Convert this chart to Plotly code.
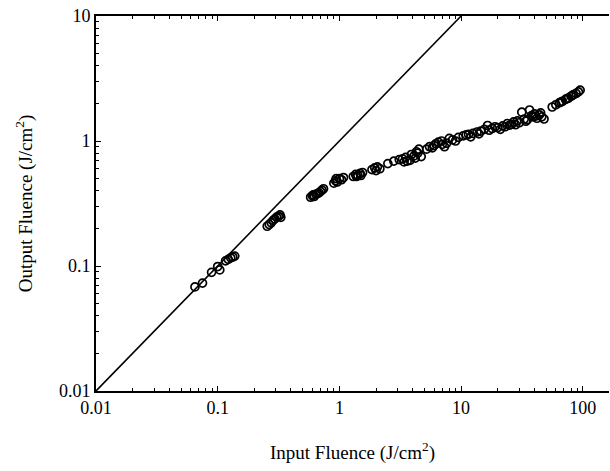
import plotly.graph_objects as go

input_fluence = [
    0.065, 0.075, 0.089, 0.100, 0.104, 0.116, 0.122, 0.128, 0.133, 0.138,
    0.255, 0.265, 0.275, 0.285, 0.295, 0.305, 0.315, 0.325, 0.33,
    0.58, 0.60, 0.61, 0.62, 0.64, 0.66, 0.68, 0.70, 0.72, 0.74,
    0.90, 0.93, 0.96, 1.00, 1.04, 1.08, 0.94,
    1.30, 1.36, 1.42, 1.48, 1.55, 1.38, 1.50,
    1.85, 1.95, 2.05, 2.15, 2.0,
    2.5, 2.8, 3.1, 3.3, 3.5, 3.6, 3.8, 3.9, 4.1, 4.3, 4.4, 4.5, 4.7, 4.2, 3.4,
    5.2, 5.5, 5.8, 6.2, 6.5, 6.9, 7.3, 7.6, 8.0, 8.5, 9.5, 6.0, 7.0, 9.0,
    10.4, 11.0, 12.0, 12.5, 13.5, 14.5, 15.5, 16.5, 17.0, 18.0, 19.0, 11.5, 14.0,
    20.0, 21.0, 22.0, 24.0, 25.0, 27.0, 28.0, 30.0, 31.5, 33.0, 35.0, 23.0, 26.0, 29.0,
    36.5, 38.0, 39.0, 40.0, 42.0, 44.0, 46.0, 48.0, 34.0, 41.0, 45.0,
    56.0, 60.0, 64.0, 68.0, 72.0, 76.0, 80.0, 84.0, 88.0, 92.0, 95.0, 66.0, 74.0, 82.0,
]
output_fluence = [
    0.068, 0.073, 0.089, 0.099, 0.093, 0.110, 0.113, 0.116, 0.118, 0.120,
    0.208, 0.215, 0.222, 0.232, 0.238, 0.246, 0.250, 0.256, 0.245,
    0.355, 0.365, 0.370, 0.360, 0.375, 0.380, 0.385, 0.395, 0.405, 0.415,
    0.46, 0.48, 0.47, 0.50, 0.49, 0.51, 0.50,
    0.52, 0.54, 0.53, 0.55, 0.56, 0.52, 0.53,
    0.59, 0.61, 0.62, 0.60, 0.58,
    0.66, 0.69, 0.71, 0.72, 0.74, 0.69, 0.70, 0.78, 0.76, 0.82, 0.80, 0.86, 0.75, 0.73, 0.68,
    0.86, 0.90, 0.88, 0.95, 0.98, 1.00, 0.90, 0.96, 1.05, 1.02, 1.07, 0.92, 0.94, 1.00,
    1.10, 1.12, 1.08, 1.15, 1.18, 1.20, 1.24, 1.33, 1.22, 1.26, 1.30, 1.13, 1.14,
    1.28, 1.24, 1.32, 1.38, 1.34, 1.42, 1.35, 1.40, 1.70, 1.50, 1.48, 1.30, 1.36, 1.45,
    1.77, 1.60, 1.56, 1.65, 1.52, 1.62, 1.56, 1.50, 1.44, 1.58, 1.68,
    1.87, 1.95, 2.02, 2.08, 2.15, 2.20, 2.28, 2.35, 2.40, 2.47, 2.55, 2.05, 2.18, 2.32,
]

# Reference line: output = input
line_x = [0.01, 10]
line_y = [0.01, 10]

x_tickvals = [0.01, 0.1, 1, 10, 100]
x_ticktext = ["0.01", "0.1", "1", "10", "100"]
y_tickvals = [0.01, 0.1, 1, 10]
y_ticktext = ["0.01", "0.1", "1", "10"]

minor_x = [m * d for d in [0.01, 0.1, 1, 10, 100] for m in range(2, 10) if m * d < 170]
minor_y = [m * d for d in [0.01, 0.1, 1] for m in range(2, 10)]

font = "Liberation Serif, Times New Roman, serif"

fig = go.Figure()
fig.add_trace(go.Scatter(
    x=line_x, y=line_y, mode="lines",
    line=dict(color="black", width=1.6), showlegend=False, hoverinfo="skip"))
fig.add_trace(go.Scatter(
    x=input_fluence, y=output_fluence, mode="markers",
    marker=dict(symbol="circle-open", size=8, color="black", line=dict(width=1.7)),
    showlegend=False))

axis_common = dict(
    type="log", showgrid=False, zeroline=False,
    showline=True, linecolor="black", linewidth=1.6,
    ticks="inside", ticklen=5, tickwidth=1, tickcolor="black",
    tickfont=dict(family=font, size=18, color="black"),
    ticklabeloverflow="allow",
)

fig.update_xaxes(
    **axis_common,
    mirror="ticks",
    range=[-2, 2.215],
    tickmode="array", tickvals=x_tickvals, ticktext=x_ticktext,
    minor=dict(tickmode="array", tickvals=minor_x, ticks="inside", ticklen=3,
               tickcolor="black", tickwidth=1),
    title=dict(text="Input Fluence (J/cm<sup>2</sup>)",
               font=dict(family=font, size=19, color="black"), standoff=28),
)
fig.update_yaxes(
    **axis_common,
    mirror=False,
    range=[-2, 1],
    tickmode="array", tickvals=y_tickvals, ticktext=y_ticktext,
    minor=dict(tickmode="array", tickvals=minor_y, ticks="inside", ticklen=3,
               tickcolor="black", tickwidth=1),
    title=dict(text="Output Fluence (J/cm<sup>2</sup>)",
               font=dict(family=font, size=19, color="black"), standoff=21),
)

# Right-hand axis: tick marks only, no solid line (as in the reference)
fig.update_layout(
    yaxis2=dict(
        type="log", overlaying="y", side="right", matches="y",
        range=[-2, 1], showline=False, showgrid=False, zeroline=False,
        showticklabels=False,
        ticks="inside", ticklen=5, tickwidth=1, tickcolor="black",
        tickmode="array", tickvals=y_tickvals,
        minor=dict(tickmode="array", tickvals=minor_y, ticks="inside", ticklen=3,
                   tickcolor="black", tickwidth=1),
    ),
)

fig.update_layout(
    width=610, height=471,
    margin=dict(l=96, r=1, t=16, b=80, autoexpand=False),
    plot_bgcolor="white", paper_bgcolor="white",
)

# Remove the default page body margin so the figure sits at the window origin.
fig.write_html("out.html", config={"displayModeBar": False},
               post_script="document.body.style.margin='0';")
